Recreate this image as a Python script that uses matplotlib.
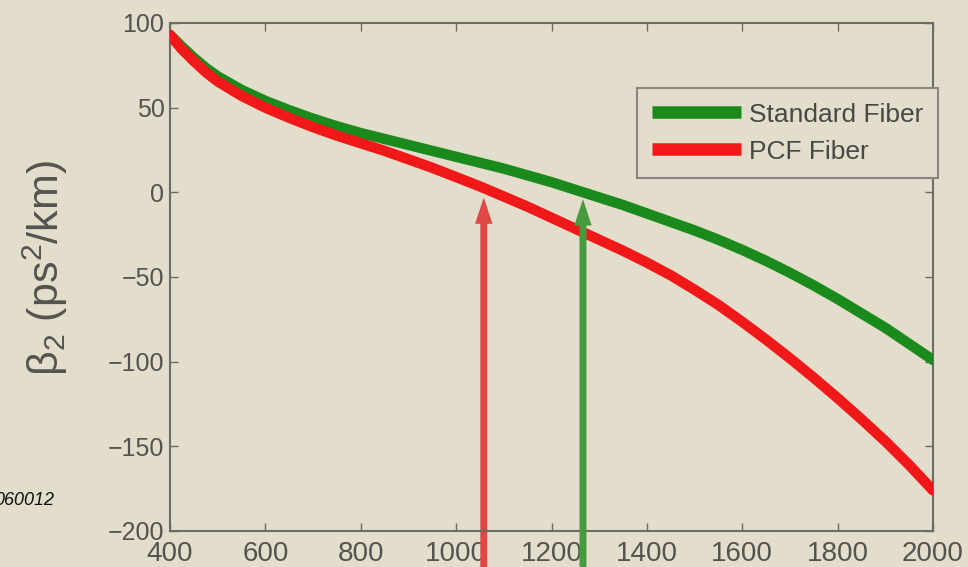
import matplotlib.pyplot as plt

plt.rcParams['font.family'] = ['Liberation Sans', 'DejaVu Sans']
plt.rcParams['mathtext.fontset'] = 'custom'
plt.rcParams['mathtext.rm'] = 'Liberation Sans'
plt.rcParams['mathtext.it'] = 'Liberation Sans'

# wavelength (nm)
wl = [400, 425, 450, 475, 500, 550, 600, 650, 700, 750, 800, 850, 900, 950, 1000,
      1050, 1100, 1150, 1200, 1250, 1300, 1350, 1400, 1450, 1500, 1550, 1600,
      1650, 1700, 1750, 1800, 1850, 1900, 1950, 2000]
# beta2 (ps^2/km)
standard = [93, 86, 79.5, 73.5, 68.5, 60.5, 54, 48.5, 43.5, 39, 35, 31.5, 28, 24.5, 21,
            17.5, 14, 10, 6, 1.5, -3, -7.5, -12.5, -17.5, -22.5, -28, -34,
            -40.5, -47.5, -55, -63, -71.5, -80, -89.5, -99]
pcf = [93, 84.5, 77.5, 71, 65.5, 57, 50, 44, 38.5, 33.5, 29, 24.5, 19.5, 14.5, 9,
       3.5, -2.5, -8.5, -15, -21.5, -28, -34.5, -41.5, -49, -57.5, -66.5, -76.5,
       -87, -98, -109.5, -121.5, -134, -147, -161, -176]

zero_pcf = 1058
zero_std = 1266

xticks = [400, 600, 800, 1000, 1200, 1400, 1600, 1800, 2000]
yticks = [-200, -150, -100, -50, 0, 50, 100]

bg = '#e3ddcc'
spine_col = '#6e6a64'
txt_col = '#555250'

fig = plt.figure(figsize=(9.68, 5.67), dpi=100, facecolor=bg)
ax = fig.add_axes([170 / 968, 1 - 531 / 567, 763 / 968, 508 / 567], facecolor=bg)

ax.plot(wl, standard, color='#1a8a1c', lw=7.5, solid_capstyle='round',
        solid_joinstyle='round', label='Standard Fiber', zorder=3)
ax.plot(wl, pcf, color='#f01818', lw=7.5, solid_capstyle='round',
        solid_joinstyle='round', label='PCF Fiber', zorder=4)

# zero-dispersion arrows
arrow_style = 'simple,head_length=1.9,head_width=1.25,tail_width=0.5'
ax.annotate('', xy=(zero_pcf, -3), xytext=(zero_pcf, -225), annotation_clip=False,
            arrowprops=dict(arrowstyle=arrow_style, mutation_scale=10, color='#e04848',
                            lw=0, shrinkA=0, shrinkB=0),
            zorder=2)
ax.annotate('', xy=(zero_std, -4), xytext=(zero_std, -225), annotation_clip=False,
            arrowprops=dict(arrowstyle=arrow_style, mutation_scale=10, color='#479a3e',
                            lw=0, shrinkA=0, shrinkB=0),
            zorder=5)

ax.set_xlim(400, 2000)
ax.set_ylim(-200, 100)
ax.set_xticks(xticks)
ax.set_yticks(yticks)
ax.tick_params(direction='in', top=True, right=True, length=6, width=1, color=spine_col,
               labelcolor=txt_col)
ax.tick_params(axis='x', labelsize=20, pad=7)
ax.tick_params(axis='y', labelsize=18, pad=4)
for s in ax.spines.values():
    s.set_color(spine_col)
    s.set_linewidth(1.5)

ax.set_ylabel('β$_2$ (ps$^2$/km)', fontsize=31, color=txt_col, ha='center', va='center')
ax.yaxis.set_label_coords(-0.164, 0.518)

leg = fig.legend(loc='upper left', bbox_to_anchor=(637 / 968, 1 - 88 / 567), borderaxespad=0,
                 fontsize=19, handlelength=3.4, handletextpad=0.3, labelspacing=0.5,
                 fancybox=False, facecolor=bg, edgecolor='#8a8580', framealpha=1,
                 borderpad=0.55)
leg.get_frame().set_linewidth(1.5)
for t in leg.get_texts():
    t.set_color('#4a4846')
for h in leg.legend_handles:
    h.set_linewidth(9)
    h.set_solid_capstyle('butt')

fig.text(-6 / 968, 1 - 505 / 567, '060012', fontsize=13, style='italic', color='#111111',
         ha='left', va='baseline')

fig.savefig('out.png', dpi=100, facecolor=bg)
